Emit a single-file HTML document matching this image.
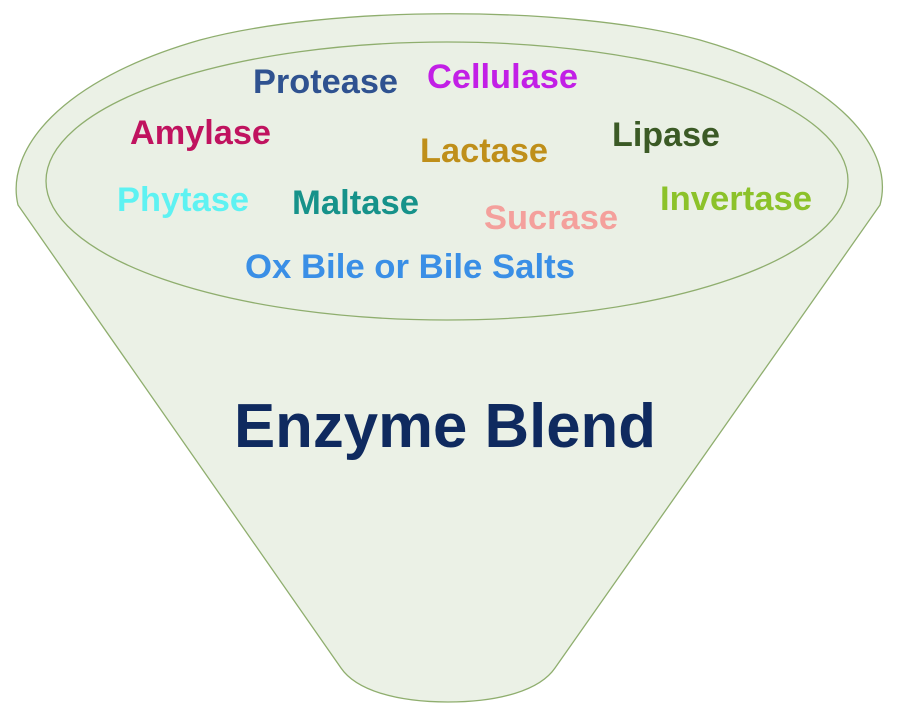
<!DOCTYPE html>
<html><head><meta charset="utf-8"><style>html,body{margin:0;padding:0;background:#fff}svg{display:block}text{font-family:"Liberation Sans",Arial,sans-serif;font-weight:bold}</style></head>
<body>
<svg width="900" height="706" viewBox="0 0 900 706">
<path d="M18,205 C5,150 60,80 200,40 C330,5 570,5 700,40 C840,80 895,150 880,205 L555,668 C540,690 500,702 448,702 C396,702 356,690 341,668 Z" fill="#ebf1e6" stroke="#8fae6e" stroke-width="1.3"/>
<ellipse cx="447" cy="181" rx="401" ry="139" fill="#eaf0e5" stroke="#8fae6e" stroke-width="1.3"/>
<g font-size="34" lengthAdjust="spacingAndGlyphs">
<text x="253" y="93" fill="#2f5290" textLength="145" lengthAdjust="spacingAndGlyphs">Protease</text>
<text x="427" y="88" fill="#c21fe6" textLength="151" lengthAdjust="spacingAndGlyphs">Cellulase</text>
<text x="130" y="144" fill="#c0135f" textLength="141" lengthAdjust="spacingAndGlyphs">Amylase</text>
<text x="420" y="162" fill="#bf8f1a" textLength="128" lengthAdjust="spacingAndGlyphs">Lactase</text>
<text x="612" y="146" fill="#3b5a25" textLength="108" lengthAdjust="spacingAndGlyphs">Lipase</text>
<text x="117" y="211" fill="#5ef2f2" textLength="132" lengthAdjust="spacingAndGlyphs">Phytase</text>
<text x="292" y="214" fill="#16928a" textLength="127" lengthAdjust="spacingAndGlyphs">Maltase</text>
<text x="484" y="229" fill="#f4a09c" textLength="134" lengthAdjust="spacingAndGlyphs">Sucrase</text>
<text x="660" y="210" fill="#8cc22a" textLength="152" lengthAdjust="spacingAndGlyphs">Invertase</text>
<text x="245" y="278" fill="#3a8fe6" textLength="330" lengthAdjust="spacingAndGlyphs">Ox Bile or Bile Salts</text>
</g>
<text x="234" y="447" font-size="62" fill="#0f2a5f" textLength="422" lengthAdjust="spacingAndGlyphs">Enzyme Blend</text>
</svg>
</body></html>
